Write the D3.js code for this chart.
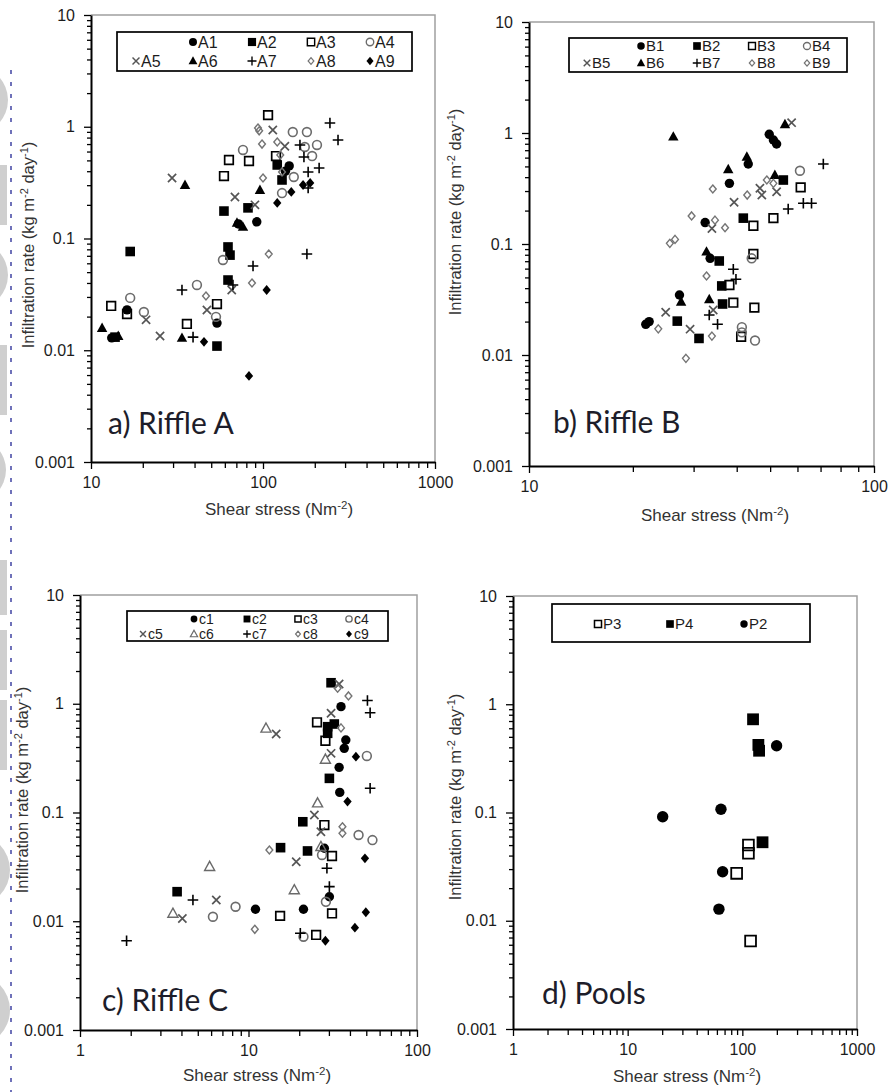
<!DOCTYPE html>
<html><head><meta charset="utf-8">
<script src="https://cdn.jsdelivr.net/npm/d3@7"></script>
<style>body{margin:0;background:#fff}svg{display:block}</style>
</head><body>
<svg id="chart" width="890" height="1092"></svg>
<script>
// ---------------- DATA ----------------
const yTickValues = [0.001, 0.01, 0.1, 1, 10];
const yTickLabels = ["0.001", "0.01", "0.1", "1", "10"];
const xTickValuesA = [10, 100, 1000], xTickLabelsA = ["10", "100", "1000"];
const xTickValuesB = [10, 100], xTickLabelsB = ["10", "100"];
const xTickValuesC = [1, 10, 100], xTickLabelsC = ["1", "10", "100"];
const xTickValuesD = [1, 10, 100, 1000], xTickLabelsD = ["1", "10", "100", "1000"];

const seriesNamesA = ["A1","A2","A3","A4","A5","A6","A7","A8","A9"];
const seriesNamesB = ["B1","B2","B3","B4","B5","B6","B7","B8","B9"];
const seriesNamesC = ["c1","c2","c3","c4","c5","c6","c7","c8","c9"];
const seriesNamesD = ["P3","P4","P2"];

const panelTitles = ["a) Riffle A", "b) Riffle B", "c) Riffle C", "d) Pools"];

// Riffle A : [shear stress, infiltration rate]
const A1 = [[142,0.446],[135,0.40],[92,0.141],[72,0.135],[54,0.0175],[13.2,0.0129],[16.2,0.023]];
const A2 = [[121,0.455],[129,0.334],[59.3,0.176],[81.8,0.188],[62.6,0.084],[64.3,0.071],[62.6,0.0425],[16.9,0.0765],[54,0.0109],[13.8,0.0131]];
const A3 = [[107,1.27],[63.4,0.504],[82.9,0.494],[59.3,0.362],[119,0.547],[13.1,0.0249],[16.2,0.0211],[36.1,0.0172],[54,0.0259]];
const A4 = [[149,0.897],[180,0.897],[175,0.659],[206,0.687],[76.5,0.62],[193,0.547],[151,0.355],[129,0.255],[58.5,0.0642],[41.3,0.0384],[53.3,0.0199],[16.9,0.0294],[20.3,0.022]];
const A5 = [[114,0.935],[134,0.67],[29.6,0.348],[68.7,0.235],[89.8,0.2],[65.8,0.0346],[47.2,0.0229],[20.9,0.0187],[25.2,0.0134]];
const A6 = [[35.2,0.301],[96,0.272],[70.6,0.138],[76.5,0.127],[33.8,0.0129],[11.6,0.0158],[14.4,0.0134]];
const A7 = [[245,1.08],[273,0.76],[164,0.687],[173,0.536],[183,0.394],[212,0.428],[183,0.283],[180,0.0727],[87.5,0.0568],[33.8,0.0346],[66.9,0.0384],[39.2,0.0131]];
const A8 = [[93.5,0.975],[95,0.92],[98.7,0.70],[121,0.73],[126,0.559],[129,0.394],[100,0.348],[108,0.0727],[86.3,0.040],[46.6,0.0306]];
const A9 = [[171,0.301],[188,0.314],[146,0.261],[121,0.208],[105,0.0346],[45.4,0.0119],[82.9,0.00589]];

// Riffle B
const B1 = [[49.7,0.973],[51.1,0.865],[52.2,0.796],[43.2,0.526],[38.1,0.352],[32.4,0.156],[33.5,0.0743],[27.3,0.0347],[21.8,0.0189],[22.3,0.0200]];
const B2 = [[54.6,0.377],[41.8,0.171],[35.6,0.0703],[36.2,0.0419],[36.4,0.0288],[26.9,0.0202],[31.1,0.0141]];
const B3 = [[61.3,0.324],[44.7,0.146],[51.1,0.171],[44.7,0.0813],[38.1,0.0427],[39.1,0.0296],[45.0,0.0267],[41.2,0.0146]];
const B4 = [[61.0,0.457],[44.2,0.0743],[41.4,0.0178],[45.2,0.0135],[41.4,0.0160]];
const B5 = [[57.7,1.24],[46.7,0.318],[47.3,0.276],[52.2,0.296],[39.3,0.238],[33.9,0.138],[34.2,0.0254],[24.9,0.0243],[29.3,0.0171]];
const B6 = [[26.2,0.927],[55.2,1.20],[42.8,0.611],[37.8,0.471],[51.6,0.419],[32.7,0.0853],[27.6,0.0302],[33.3,0.0318]];
const B7 = [[71.3,0.526],[56.4,0.207],[62.4,0.233],[65.9,0.233],[39.1,0.0592],[39.8,0.0481],[33.3,0.0229],[35.2,0.0189]];
const B8 = [[48.9,0.377],[51.1,0.352],[34.1,0.313],[42.9,0.276],[29.6,0.179],[34.6,0.164],[37.0,0.140],[25.6,0.1014],[26.5,0.110]];
const B9 = [[32.7,0.0515],[23.7,0.0172],[33.9,0.0148],[28.5,0.00933]];

// Riffle C
const C1 = [[35.4,0.94],[37.8,0.464],[37.0,0.389],[34.5,0.260],[34.8,0.153],[28.2,0.0469],[30.2,0.0168],[11.0,0.0129],[21.2,0.0129]];
const C2 = [[30.9,1.56],[29.5,0.615],[32.3,0.651],[29.5,0.535],[30.2,0.206],[21.0,0.0822],[15.5,0.0475],[22.4,0.0443],[3.77,0.0187]];
const C3 = [[25.5,0.675],[28.6,0.457],[28.2,0.0767],[31.3,0.0398],[15.4,0.0112],[31.3,0.0118],[25.2,0.00748]];
const C4 = [[50.4,0.331],[45.0,0.0621],[54.4,0.0558],[27.3,0.0407],[28.8,0.0151],[8.38,0.0136],[6.15,0.0110],[21.2,0.00721]];
const C5 = [[34.5,1.52],[30.9,0.817],[14.6,0.527],[30.9,0.350],[24.6,0.0948],[26.9,0.0666],[19.2,0.0353],[6.44,0.0157],[4.05,0.0106]];
const C6 = [[12.7,0.595],[28.6,0.308],[25.7,0.122],[26.9,0.0485],[5.88,0.0318],[18.7,0.0194],[3.56,0.0118]];
const C7 = [[50.8,1.07],[52.7,0.827],[52.7,0.167],[29.2,0.0307],[30.2,0.0208],[4.68,0.0157],[20.3,0.00775],[1.89,0.00662]];
const C8 = [[33.8,1.39],[39.2,1.18],[35.4,0.60],[36.1,0.074],[36.1,0.0644],[13.3,0.0452],[10.9,0.00843]];
const C9 = [[43.4,0.326],[38.7,0.126],[49.1,0.0379],[49.7,0.0121],[42.8,0.00873],[28.6,0.00662]];

// Pools
const P3 = [[113,0.0501],[113,0.0420],[89.2,0.0274],[118,0.0065]];
const P4 = [[124,0.726],[138,0.421],[140,0.372],[150,0.0531]];
const P2 = [[199,0.414],[20.2,0.0914],[65.1,0.107],[67.3,0.0284],[62.5,0.0128]];

// ---------------- DRAWING ----------------
const svg = d3.select("#chart");
const FONT = "'Liberation Sans', Arial, sans-serif";

const shapes = {
  circle:   {draw(c, r){ c.moveTo(r, 0); c.arc(0, 0, r, 0, 2 * Math.PI); }},
  square:   {draw(c, r){ c.rect(-r, -r, 2 * r, 2 * r); }},
  triangle: {draw(c, r){ c.moveTo(0, -r); c.lineTo(r * 0.95, r * 0.72); c.lineTo(-r * 0.95, r * 0.72); c.closePath(); }},
  diamond:  {draw(c, r){ c.moveTo(0, -r); c.lineTo(r * 0.85, 0); c.lineTo(0, r); c.lineTo(-r * 0.85, 0); c.closePath(); }},
  plus:     {draw(c, r){ c.moveTo(-r, 0); c.lineTo(r, 0); c.moveTo(0, -r); c.lineTo(0, r); }},
  cross:    {draw(c, r){ c.moveTo(-r, -r); c.lineTo(r, r); c.moveTo(-r, r); c.lineTo(r, -r); }}
};

const riffleStyles = [
  {shape:"circle",   r:4.7, fill:"#000", stroke:"none", sw:0},
  {shape:"square",   r:4.8, fill:"#000", stroke:"none", sw:0},
  {shape:"square",   r:4.3, fill:"none", stroke:"#000", sw:1.7},
  {shape:"circle",   r:4.4, fill:"none", stroke:"#6c6c6c", sw:1.6},
  {shape:"cross",    r:4.1, fill:"none", stroke:"#555", sw:1.7},
  {shape:"triangle", r:5.5, fill:"#000", stroke:"none", sw:0},
  {shape:"plus",     r:5.3, fill:"none", stroke:"#000", sw:1.6},
  {shape:"diamond",  r:4.0, fill:"none", stroke:"#747474", sw:1.4},
  {shape:"diamond",  r:4.9, fill:"#000", stroke:"none", sw:0}
];
const stylesB = riffleStyles.map((s, i) => i === 8 ? riffleStyles[7] : s);
const stylesC = riffleStyles.map((s, i) => i === 5 ? {shape:"triangle", r:5.3, fill:"none", stroke:"#6a6a6a", sw:1.4} : s);
const stylesD = [
  {shape:"square", r:5.4, fill:"none", stroke:"#000", sw:1.8},
  {shape:"square", r:5.9, fill:"#000", stroke:"none", sw:0},
  {shape:"circle", r:5.7, fill:"#000", stroke:"none", sw:0}
];

const panels = [
  {names: seriesNamesA, data: [A1,A2,A3,A4,A5,A6,A7,A8,A9], styles: riffleStyles,
   x0:91, x1:435, y0:15, y1:462, xDom:[10,1000], xTV:xTickValuesA, xTL:xTickLabelsA,
   title: panelTitles[0], titlePos:[108,434],
   legBox:[117,32,412,71], legCols:[136,193,252,311,370], legRows:[42,61], legScale:0.85, legFont:16,
   xTitle:[279,515], yTitle:[28,245]},
  {names: seriesNamesB, data: [B1,B2,B3,B4,B5,B6,B7,B8,B9], styles: stylesB,
   x0:529, x1:874, y0:22, y1:466, xDom:[10,100], xTV:xTickValuesB, xTL:xTickLabelsB,
   title: panelTitles[1], titlePos:[553,433],
   legBox:[569,38,847,72], legCols:[587,641,697,752,807], legRows:[46,63], legScale:0.8, legFont:15,
   xTitle:[715,521], yTitle:[455,212]},
  {names: seriesNamesC, data: [C1,C2,C3,C4,C5,C6,C7,C8,C9], styles: stylesC,
   x0:80, x1:417, y0:595, y1:1030, xDom:[1,100], xTV:xTickValuesC, xTL:xTickLabelsC,
   title: panelTitles[2], titlePos:[102,1011],
   legBox:[127,611,388,641], legCols:[143,194,247,298,349], legRows:[619,634], legScale:0.72, legFont:14,
   xTitle:[257,1081], yTitle:[22,790]},
  {names: seriesNamesD, data: [P3,P4,P2], styles: stylesD,
   x0:513, x1:857, y0:596, y1:1029, xDom:[1,1000], xTV:xTickValuesD, xTL:xTickLabelsD,
   title: panelTitles[3], titlePos:[542,1004],
   legBox:[552,604,810,642], legCols:[598,670,744], legRows:[624], legScale:0.65, legFont:15,
   xTitle:[687,1082], yTitle:[455,797]}
];

// decorative remnants at left page edge
const edge = svg.append("g");
[[100,34],[275,34],[470,32],[870,36],[1010,36]].forEach(([cy, r]) =>
  edge.append("circle").attr("cx", -26).attr("cy", cy).attr("r", r).attr("fill", "#cfcfcf"));
[[165,60],[345,70],[560,55],[630,60],[700,70]].forEach(([yy, h]) =>
  edge.append("rect").attr("x", 0).attr("y", yy).attr("width", 7).attr("height", h).attr("fill", "#cfcfcf"));
edge.append("line").attr("x1", 11).attr("x2", 11).attr("y1", 70).attr("y2", 1092)
  .attr("stroke", "#4b4fa8").attr("stroke-width", 1.6).attr("stroke-dasharray", "4,8");

function minorTicks(dom){
  const out = [];
  for (let d = dom[0]; d < dom[1] - 1e-9; d *= 10) for (let k = 2; k <= 9; k++) out.push(d * k);
  return out;
}

function styleAxis(g){
  g.selectAll("line").attr("stroke", "#000").attr("stroke-width", 1.3);
  g.selectAll("text").attr("font-family", FONT)
    .attr("font-size", 16).attr("fill", "#1c1c1c");
}

function drawPanel(p){
  const g = svg.append("g");
  const x = d3.scaleLog().domain(p.xDom).range([p.x0, p.x1]);
  const y = d3.scaleLog().domain([0.001, 10]).range([p.y1, p.y0]);

  // plot area frame (grey top & right)
  g.append("path").attr("d", `M${p.x0},${p.y0}H${p.x1}V${p.y1}`)
    .attr("fill", "none").attr("stroke", "#a0a0a0").attr("stroke-width", 1.5);

  // y axis
  const yMinor = g.append("g").attr("transform", `translate(${p.x0},0)`)
    .call(d3.axisLeft(y).tickValues(minorTicks([0.001, 10])).tickFormat("").tickSize(4).tickSizeOuter(0));
  yMinor.select(".domain").remove(); styleAxis(yMinor);
  const yAx = g.append("g").attr("transform", `translate(${p.x0},0)`)
    .call(d3.axisLeft(y).tickValues(yTickValues).tickFormat((d, i) => yTickLabels[i]).tickSize(7).tickPadding(9).tickSizeOuter(0));
  styleAxis(yAx);
  yAx.select(".domain").attr("stroke", "#000").attr("stroke-width", 2);

  // x axis
  const xMinor = g.append("g").attr("transform", `translate(0,${p.y1})`)
    .call(d3.axisBottom(x).tickValues(minorTicks(p.xDom)).tickFormat("").tickSize(6).tickSizeOuter(0));
  xMinor.select(".domain").remove(); styleAxis(xMinor);
  const xAx = g.append("g").attr("transform", `translate(0,${p.y1})`)
    .call(d3.axisBottom(x).tickValues(p.xTV).tickFormat((d, i) => p.xTL[i]).tickSize(7).tickPadding(8).tickSizeOuter(0));
  styleAxis(xAx);
  xAx.select(".domain").attr("stroke", "#000").attr("stroke-width", 2);

  // axis titles
  const xt = g.append("text").attr("x", p.xTitle[0]).attr("y", p.xTitle[1]).attr("text-anchor", "middle")
    .attr("font-family", FONT).attr("font-size", 17).attr("fill", "#333");
  xt.append("tspan").text("Shear stress (Nm");
  xt.append("tspan").text("-2").attr("font-size", 11.5).attr("dy", -6);
  xt.append("tspan").text(")").attr("dy", 6);

  const yt = g.append("text").attr("transform", `translate(${p.yTitle[0]},${p.yTitle[1]}) rotate(-90)`)
    .attr("text-anchor", "middle").attr("dy", "0.35em")
    .attr("font-family", FONT).attr("font-size", 16.5).attr("fill", "#333");
  yt.append("tspan").text("Infiltration rate (kg m");
  yt.append("tspan").text("-2").attr("font-size", 11).attr("dy", -6);
  yt.append("tspan").text(" day").attr("dy", 6);
  yt.append("tspan").text("-1").attr("font-size", 11).attr("dy", -6);
  yt.append("tspan").text(")").attr("dy", 6);

  // points
  p.data.forEach((pts, si) => {
    const s = p.styles[si];
    const sym = d3.symbol().type(shapes[s.shape]).size(s.r);
    g.append("g").selectAll("path").data(pts).join("path")
      .attr("transform", d => `translate(${x(d[0])},${y(d[1])})`)
      .attr("d", sym)
      .attr("fill", s.fill).attr("stroke", s.stroke).attr("stroke-width", s.sw);
  });

  // legend
  const [lx0, ly0, lx1, ly1] = p.legBox;
  g.append("rect").attr("x", lx0).attr("y", ly0).attr("width", lx1 - lx0).attr("height", ly1 - ly0)
    .attr("fill", "#fff").attr("stroke", "#000").attr("stroke-width", 1.7);
  p.names.forEach((name, i) => {
    let col, row;
    if (p.names.length === 9) { if (i < 4) { row = 0; col = i + 1; } else { row = 1; col = i - 4; } }
    else { row = 0; col = i; }
    const cx = p.legCols[col], cy = p.legRows[row];
    const s = p.styles[i];
    g.append("path").attr("transform", `translate(${cx},${cy})`)
      .attr("d", d3.symbol().type(shapes[s.shape]).size(s.r * p.legScale)())
      .attr("fill", s.fill).attr("stroke", s.stroke).attr("stroke-width", s.sw ? Math.max(1.1, s.sw * 0.85) : 0);
    g.append("text").attr("x", cx + 5).attr("y", cy).attr("dy", "0.36em")
      .attr("font-family", FONT).attr("font-size", p.legFont)
      .attr("fill", "#1c1c1c").text(name);
  });

  // panel title
  g.append("text").attr("x", p.titlePos[0]).attr("y", p.titlePos[1])
    .attr("font-family", "Lato, 'Open Sans', sans-serif").attr("font-size", 30)
    .attr("fill", "#1d1d2a").text(p.title);
}

panels.forEach(drawPanel);
</script>
</body></html>
